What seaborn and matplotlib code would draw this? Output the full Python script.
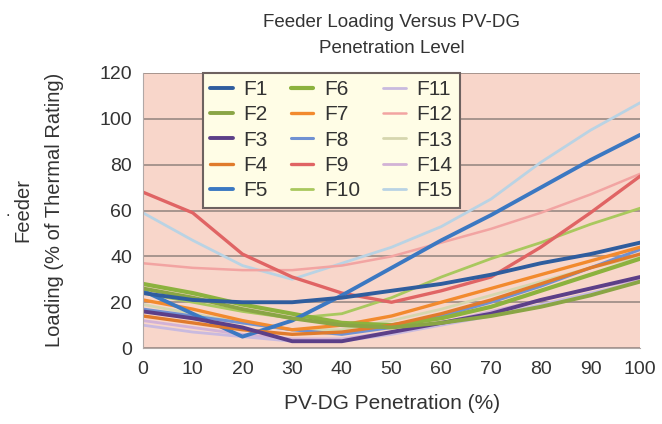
import pandas as pd
import matplotlib.pyplot as plt
import seaborn as sns

# Penetration levels (%)
penetration = [0, 10, 20, 30, 40, 50, 60, 70, 80, 90, 100]

# Feeder loading (% of thermal rating)
F1 = [24, 21, 20, 20, 22, 25, 28, 32, 37, 41, 46]
F2 = [26, 22, 17, 13, 10, 9, 11, 14, 18, 23, 29]
F3 = [16, 13, 9, 3, 3, 7, 11, 15, 21, 26, 31]
F4 = [14, 11, 8, 6, 7, 10, 15, 21, 28, 35, 41]
F5 = [25, 15, 5, 12, 23, 35, 47, 58, 70, 82, 93]
F6 = [28, 24, 19, 15, 11, 10, 13, 18, 25, 32, 39]
F7 = [21, 17, 12, 8, 10, 14, 20, 26, 32, 38, 44]
F8 = [17, 14, 11, 8, 6, 9, 14, 20, 27, 35, 43]
F9 = [68, 59, 41, 31, 24, 20, 25, 31, 44, 59, 75]
F10 = [24, 20, 16, 13, 15, 22, 31, 39, 46, 54, 61]
F11 = [10, 7, 5, 3, 3, 6, 10, 14, 19, 24, 29]
F12 = [37, 35, 34, 34, 36, 40, 46, 52, 59, 67, 76]
F13 = [19, 15, 11, 8, 8, 12, 17, 23, 29, 35, 40]
F14 = [12, 9, 6, 4, 4, 7, 11, 16, 21, 26, 30]
F15 = [59, 47, 36, 30, 37, 44, 53, 65, 81, 95, 107]

series = {'F1': F1, 'F2': F2, 'F3': F3, 'F4': F4, 'F5': F5,
          'F6': F6, 'F7': F7, 'F8': F8, 'F9': F9, 'F10': F10,
          'F11': F11, 'F12': F12, 'F13': F13, 'F14': F14, 'F15': F15}

colors = {'F1': '#2f5d9e', 'F2': '#8aa545', 'F3': '#5c3f88', 'F4': '#e07b2c',
          'F5': '#3b78c2', 'F6': '#8cb23e', 'F7': '#f28a2e', 'F8': '#7091d2',
          'F9': '#e06464', 'F10': '#a9c85e', 'F11': '#c9badf', 'F12': '#f2a4a2',
          'F13': '#d6d6ae', 'F14': '#d2b2d6', 'F15': '#b9d3e4'}
widths = {'F1': 2.8, 'F2': 2.8, 'F3': 2.8, 'F4': 2.4, 'F5': 2.8,
          'F6': 3.0, 'F7': 2.4, 'F8': 2.2, 'F9': 2.4, 'F10': 2.0,
          'F11': 2.0, 'F12': 1.8, 'F13': 2.0, 'F14': 2.0, 'F15': 2.0}

df = pd.DataFrame(series, index=penetration)
df.index.name = 'pen'
long_df = df.reset_index().melt(id_vars='pen', var_name='feeder', value_name='load')

sns.set_style('white')
plt.rcParams['font.family'] = ['Liberation Sans', 'DejaVu Sans']
text_color = '#333333'

fig = plt.figure(figsize=(6.62, 4.24), dpi=100)
ax = fig.add_axes([0.216, 0.179, 0.751, 0.649])
ax.set_facecolor('#f8d6ca')

# draw in reverse so F1 ends up on top
for name in reversed(list(series.keys())):
    sns.lineplot(data=long_df[long_df['feeder'] == name], x='pen', y='load',
                 color=colors[name], linewidth=widths[name], label=name, ax=ax)

ax.set_xlim(0, 100)
ax.set_ylim(0, 120)
ax.set_xticks(range(0, 101, 10))
ax.set_yticks(range(0, 121, 20))
ax.yaxis.grid(True, color='#9a8a84', linewidth=1.2)
ax.set_axisbelow(True)
for side in ['top', 'right']:
    ax.spines[side].set_visible(False)
for side in ['left', 'bottom']:
    ax.spines[side].set_color('#b0a8a6')
ax.tick_params(axis='both', labelsize=14, colors=text_color, length=4,
               color='#b0a8a6', direction='out')
ax.tick_params(axis='x', pad=5)
ax.tick_params(axis='y', pad=4)

ax.set_xlabel('PV-DG Penetration (%)', fontsize=15, color=text_color, labelpad=12)
ax.set_ylabel('')
fig.text(0.034, 0.505, 'Feeder', rotation=90, ha='center', va='center',
         fontsize=14.5, color=text_color)
fig.text(0.082, 0.505, 'Loading (% of Thermal Rating)', rotation=90,
         ha='center', va='center', fontsize=14.5, color=text_color)
fig.text(0.012, 0.5, '.', ha='center', va='center', fontsize=12, color=text_color)
fig.text(0.592, 0.948, 'Feeder Loading Versus PV-DG', ha='center', va='center',
         fontsize=13.5, color=text_color)
fig.text(0.592, 0.885, 'Penetration Level', ha='center', va='center',
         fontsize=13.5, color=text_color)

handles, labels = ax.get_legend_handles_labels()
order = {l: h for h, l in zip(handles, labels)}
names = list(series.keys())
leg = ax.legend([order[n] for n in names], names, ncol=3, loc='upper left',
                bbox_to_anchor=(0.12, 1.0), borderaxespad=0, fontsize=15,
                handlelength=1.1, handletextpad=0.5, columnspacing=1.1,
                labelspacing=0.3, borderpad=0.35, frameon=True, fancybox=False)
leg.get_frame().set_facecolor('#fffde6')
leg.get_frame().set_edgecolor('#6e6260')
leg.get_frame().set_linewidth(1.5)
leg.get_frame().set_alpha(1)
for t in leg.get_texts():
    t.set_color(text_color)

fig.savefig('out.png', dpi=100)
